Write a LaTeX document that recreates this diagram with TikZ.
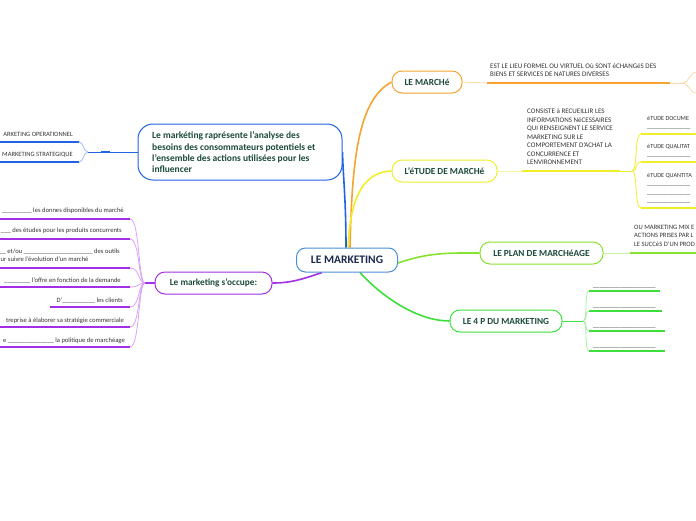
\documentclass[tikz,border=0pt]{standalone}
\usepackage{fontspec}
\setmainfont{Carlito}
\definecolor{cOrange}{HTML}{F5A431}
\definecolor{cOrangeL}{HTML}{FBD9A6}
\definecolor{cYellow}{HTML}{F0EE2A}
\definecolor{cYellowL}{HTML}{F7F59A}
\definecolor{cLime}{HTML}{86E22E}
\definecolor{cLimeL}{HTML}{C8F2A4}
\definecolor{cGreen}{HTML}{3DDF3D}
\definecolor{cGreenL}{HTML}{A8EEA8}
\definecolor{cPurple}{HTML}{A22EE6}
\definecolor{cPurpleL}{HTML}{D7A2F6}
\definecolor{cBlue}{HTML}{2163E3}
\definecolor{cBlueL}{HTML}{9DBCF2}
\definecolor{cMain}{HTML}{4A8FDC}
\definecolor{cNavy}{HTML}{1B2A4E}
\definecolor{cDark}{HTML}{1C4A3C}
\definecolor{cText}{HTML}{333333}
\newcommand\us[1]{\detokenize{#1}}
\pgfdeclarelayer{bg}
\pgfsetlayers{bg,main}
\begin{document}
\begin{tikzpicture}[x=1pt,y=-1pt,
  mainbox/.style={draw=cMain, line width=1pt, rounded corners=9pt, fill=white,
    minimum width=101pt, minimum height=24pt, inner sep=0pt,
    font=\bfseries\fontsize{11.5}{13}\selectfont, text=cNavy},
  topic/.style={draw=#1, line width=1pt, rounded corners=10pt, fill=white,
    minimum height=22pt, inner sep=0pt,
    font=\bfseries\fontsize{9.3}{11}\selectfont, text=cDark},
  small/.style={font=\fontsize{7}{8.5}\selectfont, text=cText, inner sep=0pt, align=left},
  edgelbl/.style={small, font=\fontsize{6.2}{8.5}\selectfont},
  item/.style={font=\fontsize{6.6}{8}\selectfont, text=cText, inner sep=0pt},
  conn/.style={draw=#1, line width=1.6pt},
  thin/.style={draw=#1, line width=0.8pt},
  uline/.style={draw=#1, line width=1.6pt},
]
\useasboundingbox (0,0) rectangle (696,520);
\clip (0,0) rectangle (696,520);

% ---------- main nodes ----------
\node[mainbox] (mk) at (347,260) {LE MARKETING};
\node[topic=cOrange, minimum width=70pt] (marche) at (427,82) {LE MARCHé};
\node[topic=cYellow, minimum width=105pt] (etude) at (444.5,171) {L'éTUDE DE MARCHé};
\node[topic=cLime, minimum width=123pt] (plan) at (541.5,253) {LE PLAN DE MARCHéAGE};
\node[topic=cGreen, minimum width=112pt] (p4) at (506,321) {LE 4 P DU MARKETING};
\node[topic=cPurple, minimum width=117pt] (occ) at (213.5,283) {Le marketing s'occupe:};
\node[draw=cBlue, line width=1pt, rounded corners=15pt, fill=white,
      minimum width=204pt, minimum height=56pt, inner sep=0pt] (blue) at (240,152) {};
\node[anchor=west, inner sep=0pt, align=left,
      font=\bfseries\fontsize{9.5}{11.3}\selectfont, text=cDark] (bluetxt) at (152,152.5)
  {Le markéting raprésente l'analyse des\\besoins des consommateurs potentiels et\\l'ensemble des actions utilisées pour les\\influencer};

% ---------- central connectors ----------
\begin{pgfonlayer}{bg}
\draw[conn=cOrange] ([xshift=3pt]mk.north) .. controls (352,160) and (358,100) .. (marche.west);
\draw[conn=cYellow] ([xshift=1pt]mk.north) .. controls (350,200) and (362,172) .. (etude.west);
\draw[conn=cBlue] ([xshift=-1pt]mk.north) .. controls (346,200) and (343,175) .. (blue.east);
\draw[conn=cLime] ([yshift=-3pt]mk.east) .. controls (430,252) and (450,253) .. (plan.west);
\draw[conn=cGreen] ([xshift=13pt]mk.south) .. controls (385,300) and (420,321) .. (p4.west);
\draw[conn=cPurple] ([xshift=-25pt]mk.south) .. controls (300,280) and (290,283) .. (occ.east);
\end{pgfonlayer}

% ---------- LE MARCHE leaf ----------
\coordinate (ma1) at (487,83);
\coordinate (ma2) at (670,83);
\coordinate (maj) at (683,83);
\coordinate (maU) at (697,72);
\coordinate (maD) at (697,93);
\draw[thin=cOrangeL] (marche.east) -- (ma1);
\draw[uline=cOrange] (ma1) -- (ma2);
\draw[thin=cOrangeL] (ma2) -- (maj);
\draw[thin=cOrangeL] (maj) .. controls (689,83) and (689,72) .. (maU);
\draw[thin=cOrangeL] (maj) .. controls (689,83) and (689,93) .. (maD);
\node[small, anchor=north west] (matxt) at (490,63.5)
  {EST LE LIEU FORMEL OU VIRTUEL Où SONT éCHANGéS DES\\BIENS ET SERVICES DE NATURES DIVERSES};

% ---------- L'ETUDE leaf ----------
\coordinate (et1) at (522,171);
\coordinate (et2) at (620,171);
\coordinate (etj) at (632,171);
\coordinate (eA) at (641,134);
\coordinate (eB) at (641,162);
\coordinate (eC) at (641,208);
\draw[thin=cYellowL] (etude.east) -- (et1);
\draw[uline=cYellow] (et1) -- (et2);
\draw[thin=cYellow] (et2) -- (etj);
\draw[thin=cYellow] (etj) .. controls (638,171) and (634,134) .. (eA);
\draw[thin=cYellow] (etj) .. controls (638,171) and (634,162) .. (eB);
\draw[thin=cYellow] (etj) .. controls (638,171) and (634,208) .. (eC);
\draw[uline=cYellow] (eA) -- (697,134);
\draw[uline=cYellow] (eB) -- (697,162);
\draw[uline=cYellow] (eC) -- (697,208);
\node[small, anchor=north west] (ettxt) at (527,109)
  {CONSISTE à RECUEILLIR LES\\INFORMATIONS NéCESSAIRES\\QUI RENSEIGNENT LE SERVICE\\MARKETING SUR LE\\COMPORTEMENT D'ACHAT LA\\CONCURRENCE ET\\LENVIRONNEMENT};
\node[edgelbl, anchor=north west] (eAt) at (647,116) {éTUDE DOCUME\\\us{______________}};
\node[edgelbl, anchor=north west] (eBt) at (647,144) {éTUDE QUALITAT\\\us{______________}};
\node[edgelbl, anchor=north west] (eCt) at (647,173) {éTUDE QUANTITA\\\us{______________}\\\us{______________}\\\us{______________}};

% ---------- PLAN leaf ----------
\coordinate (pl1) at (630,253);
\draw[thin=cLimeL] (plan.east) -- (pl1);
\draw[uline=cLime] (pl1) -- (697,253);
\node[small, anchor=north west, font=\fontsize{6.6}{8.5}\selectfont] (pltxt) at (634,225)
  {OU MARKETING MIX E\\ACTIONS PRISES PAR L\\LE SUCCèS D'UN PROD};

% ---------- 4P leaf ----------
\coordinate (pj) at (583,321);
\draw[thin=cGreen] (p4.east) -- (pj);
\foreach \yy/\xe [count=\k] in {291/660,311/662,331/665,351/665}{
  \coordinate (q\k) at (589,\yy);
  \draw[thin=cGreenL] (pj) .. controls (588,321) and (584,\yy) .. (q\k);
  \draw[uline=cGreen] (q\k) -- (\xe,\yy);
  \node[item, anchor=base west] (qt\k) at (593,\yy-4) {\us{___________________}};
}

% ---------- blue leaf ----------
\coordinate (b1) at (110,152);
\coordinate (b2) at (101,152);
\coordinate (bj) at (88,152);
\coordinate (bU) at (79,142);
\coordinate (bD) at (79,162);
\draw[thin=cBlue] (blue.west) -- (b1);
\draw[uline=cBlue] (b1) -- (b2);
\draw[thin=cBlue] (b2) -- (bj);
\draw[thin=cBlueL] (bj) .. controls (83,152) and (84,142) .. (bU);
\draw[thin=cBlueL] (bj) .. controls (83,152) and (84,162) .. (bD);
\draw[uline=cBlue] (bU) -- (-1,142);
\draw[uline=cBlue] (bD) -- (-1,162);
\node[small, anchor=base east, font=\fontsize{6.5}{8}\selectfont] (bt1) at (73,136.5) {ARKETING OPERATIONNEL};
\node[small, anchor=base east, font=\fontsize{6.5}{8}\selectfont] (bt2) at (73,156.5) {MARKETING STRATEGIQUE};

% ---------- purple leaf ----------
\coordinate (oj) at (145,283);
\draw[uline=cPurple] (occ.west) -- (oj);
\foreach \yy/\xs [count=\k] in {219/-1,239/-1,268/-1,287/-1,307/50,327/-1,347/-1}{
  \coordinate (r\k) at (130,\yy);
  \draw[thin=cPurpleL] (oj) .. controls (138,283) and (140,\yy) .. (r\k);
  \draw[uline=cPurple] (r\k) -- (\xs,\yy);
}
\node[item, anchor=base east] (it1) at (124,212.5) {\us{_________} les donnes disponibles du marché};
\node[item, anchor=base east] (it2) at (122,232.5) {\us{___} des études pour les produits concurrents};
\node[item, anchor=base east] (it3) at (120,253) {\us{__} et/ou \us{_____________________} des outils};
\node[item, anchor=base west] (it3b) at (0.5,261.5) {ur suivre l'évolution d'un marché};
\node[item, anchor=base east] (it4) at (121,282) {\us{________} l'offre en fonction de la demande};
\node[item, anchor=base east] (it5) at (123,302) {D'\us{__________} les clients};
\node[item, anchor=base east] (it6) at (124,322) {treprise à élaborer sa stratégie commerciale};
\node[item, anchor=base east] (it7) at (125,342) {e \us{______________} la politique de marchéage};
\end{tikzpicture}
\end{document}
